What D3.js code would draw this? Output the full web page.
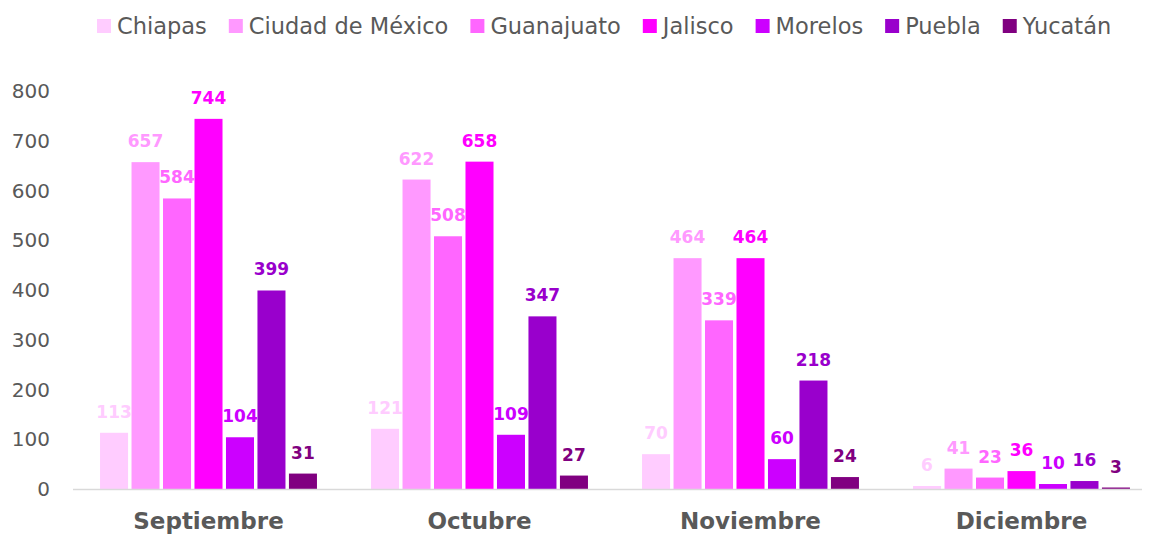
<!DOCTYPE html>
<html>
<head>
<meta charset="utf-8">
<script src="https://cdn.jsdelivr.net/npm/d3@7"></script>
<style>
body{margin:0;background:#fff;}
svg{font-family:"Century Gothic","DejaVu Sans",sans-serif;}
</style>
</head>
<body>
<div id="chart"></div>
<script>
const months = ["Septiembre","Octubre","Noviembre","Diciembre"];
const states = ["Chiapas","Ciudad de México","Guanajuato","Jalisco","Morelos","Puebla","Yucatán"];
const colors = ["#ffccff","#ff99ff","#ff66ff","#ff00ff","#cc00ff","#9900cc","#800080"];
const chiapas = [113,121,70,6];
const cdmx = [657,622,464,41];
const guanajuato = [584,508,339,23];
const jalisco = [744,658,464,36];
const morelos = [104,109,60,10];
const puebla = [399,347,218,16];
const yucatan = [31,27,24,3];
const yTicks = [0,100,200,300,400,500,600,700,800];

const series = [chiapas,cdmx,guanajuato,jalisco,morelos,puebla,yucatan];

const W = 1149, H = 536;
const x0 = 73, x1 = 1157, yTop = 91, yBot = 489;

const svg = d3.select("#chart").append("svg")
  .attr("width",W).attr("height",H);

const xScale = d3.scaleBand().domain(months).range([x0,x1]).paddingInner(0.174).paddingOuter(0.087);
const xInner = d3.scaleBand().domain(states).range([0,xScale.bandwidth()]).padding(0.11);
const yScale = d3.scaleLinear().domain([0,800]).range([yBot,yTop]);

// y axis labels
svg.append("g").selectAll("text")
  .data(yTicks).enter().append("text")
  .attr("x",50).attr("y",d=>yScale(d)+7)
  .attr("text-anchor","end")
  .attr("font-size",20).attr("fill","#595959")
  .text(d=>d);

// bars
const groups = svg.selectAll("g.month")
  .data(months).enter().append("g")
  .attr("class","month")
  .attr("transform",d=>`translate(${xScale(d)},0)`);

groups.each(function(m,mi){
  const g = d3.select(this);
  states.forEach((s,si)=>{
    const v = series[si][mi];
    g.append("rect")
      .attr("x",xInner(s))
      .attr("width",xInner.bandwidth())
      .attr("y",yScale(v))
      .attr("height",yBot-yScale(v))
      .attr("fill",colors[si]);
    g.append("text")
      .attr("x",xInner(s)+xInner.bandwidth()/2)
      .attr("y",yScale(v)-15)
      .attr("text-anchor","middle")
      .attr("font-size",17).attr("font-weight","bold")
      .attr("fill",colors[si])
      .text(v);
  });
});

// x axis line
svg.append("line")
  .attr("x1",x0).attr("x2",1142)
  .attr("y1",yBot+0.5).attr("y2",yBot+0.5)
  .attr("stroke","#d9d9d9").attr("stroke-width",1.5);

// category labels
svg.append("g").selectAll("text")
  .data(months).enter().append("text")
  .attr("x",d=>xScale(d)+xScale.bandwidth()/2)
  .attr("y",529)
  .attr("text-anchor","middle")
  .attr("font-size",23).attr("font-weight","bold").attr("fill","#595959")
  .text(d=>d);

// legend
const legend = svg.append("g").attr("transform","translate(97,26)");
let lx = 0;
states.forEach((s,i)=>{
  const it = legend.append("g").attr("transform",`translate(${lx},0)`);
  it.append("rect").attr("x",0).attr("y",-7).attr("width",14).attr("height",14).attr("fill",colors[i]);
  const t = it.append("text").attr("x",20).attr("y",8)
    .attr("font-size",22.5).attr("fill","#595959").text(s);
  lx += 20 + t.node().getComputedTextLength() + 22;
});
</script>
</body>
</html>
